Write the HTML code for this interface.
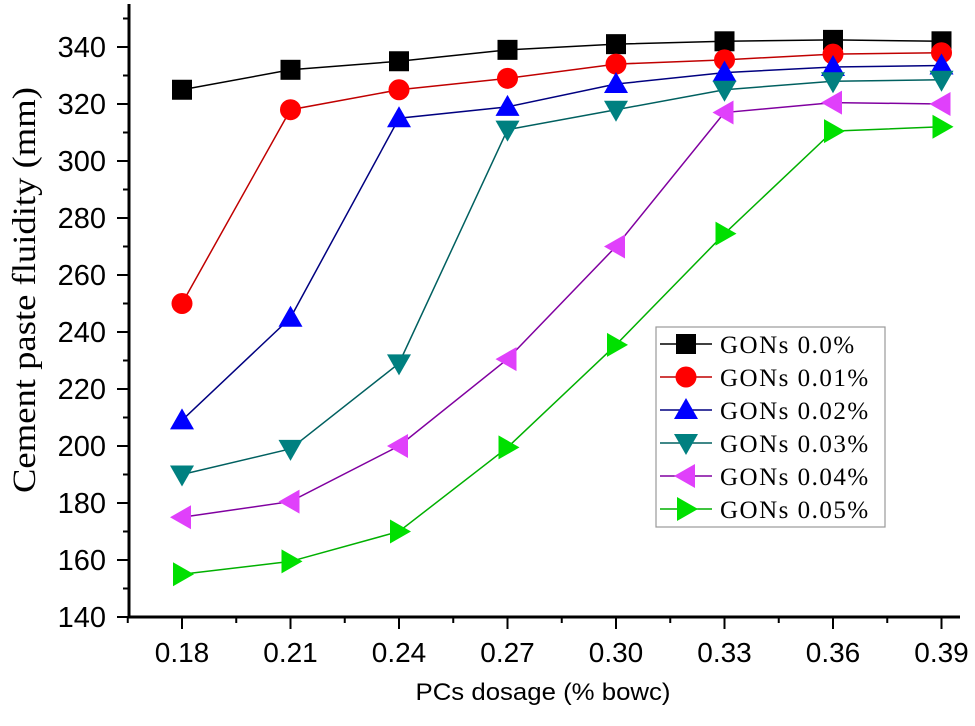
<!DOCTYPE html>
<html><head><meta charset="utf-8"><style>
body{margin:0;background:#fff}
svg text{font-family:"Liberation Sans",sans-serif}
</style></head><body>
<svg id="chart" width="975" height="721" xmlns="http://www.w3.org/2000/svg">
<g id="axes"></g><g id="series"></g><g id="legend"></g>
<text transform="translate(35,290) rotate(-90)" text-anchor="middle" textLength="406" lengthAdjust="spacingAndGlyphs" style="font-family:'Liberation Serif',serif;font-size:33px">Cement paste fluidity (mm)</text>
<text x="543" y="700" text-anchor="middle" textLength="255" lengthAdjust="spacingAndGlyphs" style="font-size:24px">PCs dosage (% bowc)</text>
</svg>
<script>
const categories=[0.18,0.21,0.24,0.27,0.30,0.33,0.36,0.39];
const xTickLabels=["0.18","0.21","0.24","0.27","0.30","0.33","0.36","0.39"];
const yTickValues=[140,160,180,200,220,240,260,280,300,320,340];
const s0=[325,332,335,339,341,342,342.5,342];
const s1=[250,318,325,329,334,335.5,337.5,338];
const s2=[209,245,315,319,327,331,333,333.5];
const s3=[190,199,229,311,318,325,328,328.5];
const s4=[175,180.5,200,230.5,270,317,320.5,320];
const s5=[155,159.5,170,199.5,235.5,274.5,310.5,312];
const seriesNames=["GONs 0.0%","GONs 0.01%","GONs 0.02%","GONs 0.03%","GONs 0.04%","GONs 0.05%"];
const NS="http://www.w3.org/2000/svg";
const xs=v=>182+(v-0.18)/0.03*108.5;
const ys=v=>617-(v-140)*2.85;
function mk(p,t,a){const e=document.createElementNS(NS,t);for(const k in a)e.setAttribute(k,a[k]);p.appendChild(e);return e;}
const ax=document.getElementById('axes');
const yl=mk(ax,'line',{x1:129,y1:4,x2:129,y2:618,stroke:'#000','stroke-width':3});


const xl=mk(ax,'line',{x1:128,y1:617,x2:960,y2:617,stroke:'#000','stroke-width':3});


for(let v=140;v<=350;v+=10){const maj=v%20===0;mk(ax,'line',{x1:maj?117:123,y1:ys(v),x2:129,y2:ys(v),stroke:'#000','stroke-width':2});}
yTickValues.forEach(v=>{const t=mk(ax,'text',{x:106,y:ys(v)+10,'text-anchor':'end','font-size':29});t.textContent=v;

});
for(let i=-1;i<categories.length;i++){const x=xs(0.18+i*0.03);if(i>=0)mk(ax,'line',{x1:x,y1:617,x2:x,y2:629,stroke:'#000','stroke-width':2});const m=x+54.25;if(m<960)mk(ax,'line',{x1:m,y1:617,x2:m,y2:623,stroke:'#000','stroke-width':2});}
categories.forEach((c,i)=>{const t=mk(ax,'text',{x:xs(c),y:662,'text-anchor':'middle','font-size':28});t.textContent=xTickLabels[i];

});
const data=[s0,s1,s2,s3,s4,s5];
const lineC=["#000","#c00000","#000080","#006060","#8000a0","#00b000"];
const fillC=["#000","#ff0000","#0000ff","#008080","#e040fb","#00e000"];
function marker(g,k,x,y,sz){
 const r=sz;
 if(k===0)return mk(g,'rect',{x:x-r,y:y-r,width:2*r,height:2*r,fill:fillC[k]});
 if(k===1)return mk(g,'circle',{cx:x,cy:y,r:r*1.05,fill:fillC[k]});
 let p;
 if(k===2)p=[[x,y-r*1.2],[x-r*1.2,y+r*0.9],[x+r*1.2,y+r*0.9]];
 if(k===3)p=[[x,y+r*1.2],[x-r*1.2,y-r*0.9],[x+r*1.2,y-r*0.9]];
 if(k===4)p=[[x-r*1.2,y],[x+r*0.9,y-r*1.2],[x+r*0.9,y+r*1.2]];
 if(k===5)p=[[x+r*1.2,y],[x-r*0.9,y-r*1.2],[x-r*0.9,y+r*1.2]];
 return mk(g,'polygon',{points:p.map(q=>q.join(',')).join(' '),fill:fillC[k]});
}
const sg=document.getElementById('series');
data.forEach((arr,k)=>{
 const g=mk(sg,'g',{});
 
 
 const pl=mk(g,'polyline',{points:arr.map((v,i)=>xs(categories[i])+','+ys(v)).join(' '),fill:'none',stroke:lineC[k],'stroke-width':1.5});
 
 
 arr.forEach((v,i)=>{const m=marker(g,k,xs(categories[i]),ys(v),10);
 
 });
});
const lg=document.getElementById('legend');
const box=mk(lg,'rect',{x:656,y:327,width:229,height:200,fill:'#fff',stroke:'#999','stroke-width':1.2});


seriesNames.forEach((n,k)=>{
 const y=344+k*33;
 const g=mk(lg,'g',{});
 
 
 mk(g,'line',{x1:660,y1:y,x2:712,y2:y,stroke:lineC[k],'stroke-width':1.5});
 marker(g,k,686,y,10);
 const t=mk(g,'text',{x:720,y:y+9,'font-size':25,'letter-spacing':1.5,style:"font-family:'Liberation Serif',serif"});t.textContent=n;
});
</script>
</body></html>
